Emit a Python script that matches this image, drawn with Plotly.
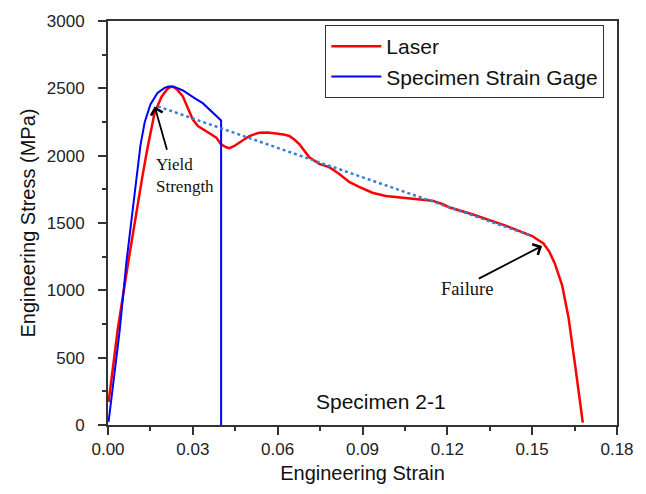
import plotly.graph_objects as go

# Laser extensometer curve
laser_strain = [0.0002, 0.0035, 0.0074, 0.0090, 0.0106, 0.0122, 0.0140, 0.0165, 0.0190, 0.0210,
                0.0222, 0.0232, 0.0245, 0.0265, 0.0283, 0.0300, 0.0318, 0.0335, 0.0360, 0.0383,
                0.0400, 0.0418, 0.0429, 0.0445, 0.0465, 0.0483, 0.0500, 0.0535, 0.0565,
                0.0594, 0.0620, 0.0641, 0.0660, 0.0677, 0.0695, 0.0712, 0.0747, 0.0782, 0.0817,
                0.0853, 0.0888, 0.0935, 0.0982, 0.1029, 0.1076, 0.1124, 0.1147, 0.1182, 0.1206,
                0.1288, 0.1406, 0.1500, 0.1520, 0.1540, 0.1560, 0.1580, 0.1606, 0.1629, 0.1653,
                0.1679]
laser_stress = [170, 719, 1240, 1450, 1640, 1850, 2060, 2320, 2440, 2495,
                2512, 2510, 2490, 2439, 2350, 2268, 2220, 2195, 2165, 2134,
                2085, 2062, 2056, 2070, 2098, 2125, 2146, 2171, 2172,
                2164, 2158, 2146, 2118, 2085, 2035, 1988, 1939, 1915, 1866,
                1805, 1769, 1725, 1700, 1690, 1676, 1670, 1666, 1641, 1617,
                1565, 1480, 1403, 1378, 1348, 1290, 1200, 1037, 792, 427,
                17]

# Specimen strain gage curve
gage_strain = [0.0002, 0.0041, 0.0065, 0.0088, 0.0102, 0.0115, 0.0130, 0.0150, 0.0175, 0.0200,
               0.0214, 0.0230, 0.0248, 0.0265, 0.0306, 0.0335, 0.0400, 0.0400]
gage_stress = [24, 695, 1207, 1622, 1880, 2080, 2250, 2380, 2465, 2503,
               2514, 2514, 2500, 2484, 2427, 2390, 2261, 0]

# Dotted reference line (yield -> failure)
ref_strain = [0.01765, 0.1500]
ref_stress = [2366, 1403]

x_ticks = [0.00, 0.03, 0.06, 0.09, 0.12, 0.15, 0.18]
y_ticks = [0, 500, 1000, 1500, 2000, 2500, 3000]

SANS = "Liberation Sans, Arial, sans-serif"
SERIF = "Liberation Serif, Times New Roman, serif"

fig = go.Figure()
fig.add_trace(go.Scatter(x=laser_strain, y=laser_stress, mode="lines", name="Laser",
                         line=dict(color="#ff0000", width=2.5)))
fig.add_trace(go.Scatter(x=gage_strain, y=gage_stress, mode="lines", name="Specimen Strain Gage",
                         line=dict(color="#0000ff", width=2)))
fig.add_trace(go.Scatter(x=ref_strain, y=ref_stress, mode="lines", showlegend=False,
                         line=dict(color="#3c7fd2", width=2.5, dash="dot")))

axis_common = dict(showline=True, linecolor="#333333", linewidth=2, mirror=True,
                   ticks="outside", ticklen=8, tickwidth=1.5, tickcolor="#333333",
                   showgrid=False, zeroline=False,
                   tickfont=dict(family=SANS, size=17, color="#222222"))

fig.update_xaxes(range=[0, 0.18], tickvals=x_ticks, tickformat=".2f",
                 minor=dict(dtick=0.015, tick0=0, ticks="outside", ticklen=4, tickwidth=1.5, tickcolor="#333333"),
                 title=dict(text="Engineering Strain", font=dict(family=SANS, size=20, color="#111111"), standoff=8),
                 **axis_common)
fig.update_yaxes(range=[0, 3000], tickvals=y_ticks, ticklabelstandoff=10,
                 minor=dict(dtick=250, tick0=0, ticks="outside", ticklen=4, tickwidth=1.5, tickcolor="#333333"),
                 title=dict(text="Engineering Stress (MPa)", font=dict(family=SANS, size=20, color="#111111"), standoff=6),
                 **axis_common)

fig.add_annotation(x=0.0165, y=2366, ax=0.0210, ay=2032, xref="x", yref="y", axref="x", ayref="y",
                   text="", showarrow=True, arrowhead=4, arrowsize=1.3, arrowwidth=1.8, arrowcolor="#000000")
fig.add_annotation(x=0.1535, y=1330, ax=0.1306, ay=1081, xref="x", yref="y", axref="x", ayref="y",
                   text="", showarrow=True, arrowhead=4, arrowsize=1.3, arrowwidth=1.8, arrowcolor="#000000")
fig.add_annotation(x=0.0162, y=1850, xref="x", yref="y", text="Yield<br>Strength", showarrow=False,
                   xanchor="left", yanchor="middle", align="left",
                   font=dict(family=SERIF, size=17, color="#111111"))
fig.add_annotation(x=0.1268, y=1010, xref="x", yref="y", text="Failure", showarrow=False,
                   xanchor="center", yanchor="middle",
                   font=dict(family=SERIF, size=18.5, color="#111111"))
fig.add_annotation(x=0.0966, y=176, xref="x", yref="y", text="Specimen 2-1", showarrow=False,
                   xanchor="center", yanchor="middle",
                   font=dict(family=SANS, size=21, color="#111111"))

fig.update_layout(
    width=646, height=494, autosize=False,
    margin=dict(l=108, r=28, t=15, b=69),
    plot_bgcolor="white", paper_bgcolor="white",
    legend=dict(x=0.427, y=0.99, xanchor="left", yanchor="top",
                bordercolor="#333333", borderwidth=1, bgcolor="white",
                font=dict(family=SANS, size=21, color="#111111"),
                itemwidth=50, tracegroupgap=0),
)

fig.write_html("out.html")
